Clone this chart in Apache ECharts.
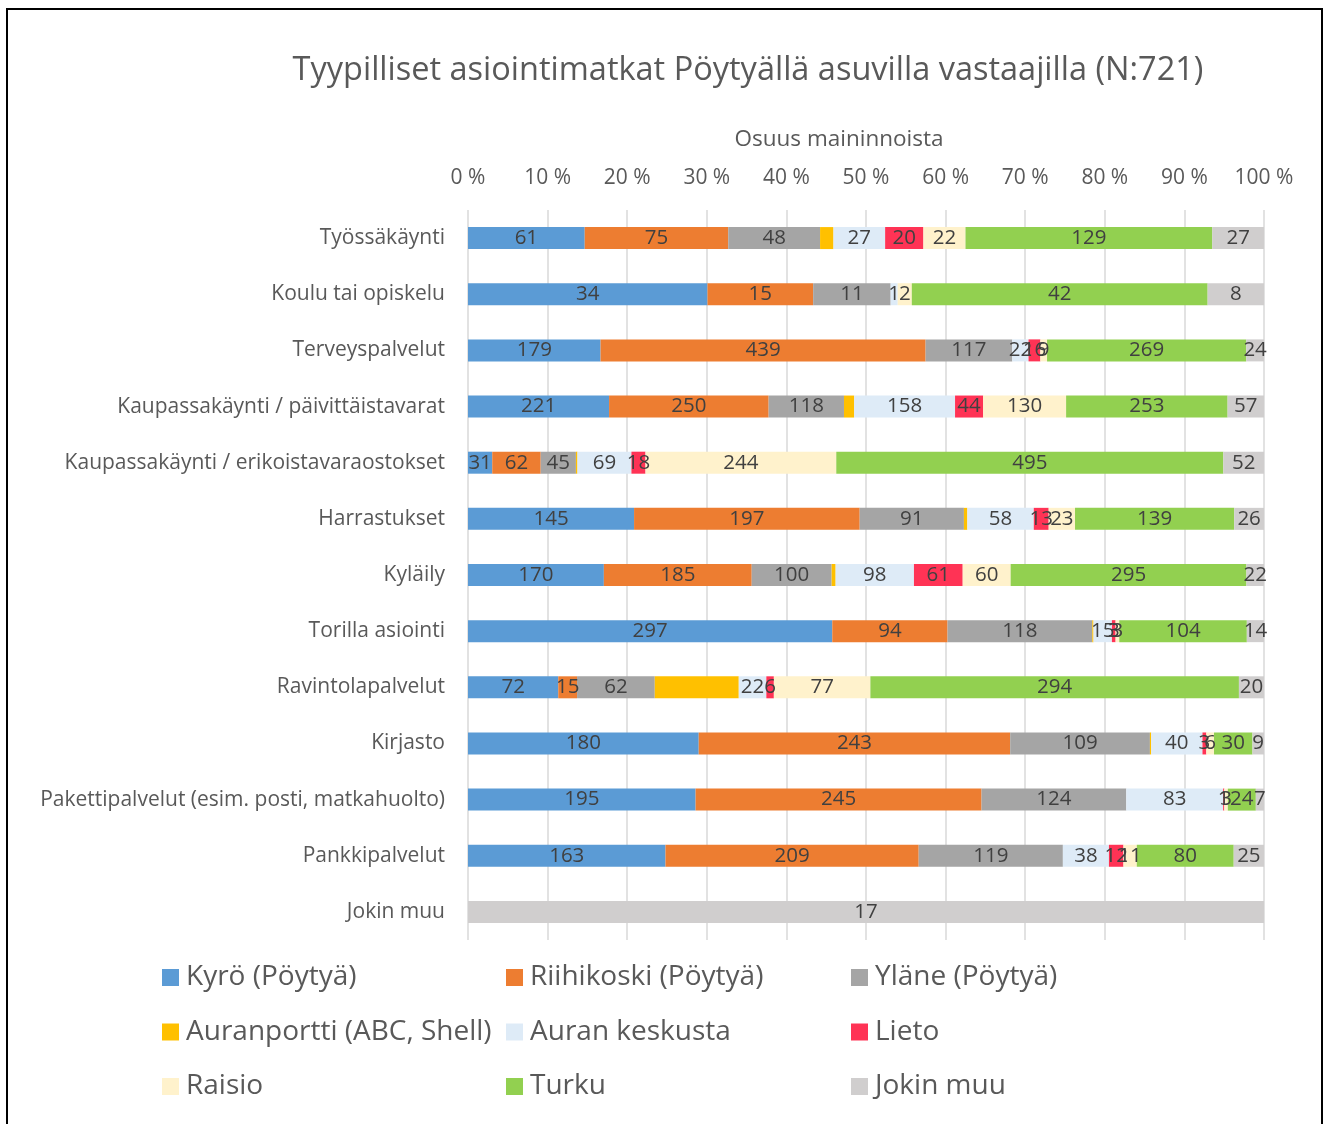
<!DOCTYPE html>
<html>
<head>
<meta charset="utf-8">
<script src="https://cdn.jsdelivr.net/npm/echarts@6/dist/echarts.min.js"></script>
<style>
  html, body { margin: 0; padding: 0; background: #fff; }
  #chart { width: 1324px; height: 1124px; }
</style>
</head>
<body>
<div id="chart"></div>
<script>
// kategoriat (ylhäältä alas)
const categories = [
  'Työssäkäynti',
  'Koulu tai opiskelu',
  'Terveyspalvelut',
  'Kaupassakäynti / päivittäistavarat',
  'Kaupassakäynti / erikoistavaraostokset',
  'Harrastukset',
  'Kyläily',
  'Torilla asiointi',
  'Ravintolapalvelut',
  'Kirjasto',
  'Pakettipalvelut (esim. posti, matkahuolto)',
  'Pankkipalvelut',
  'Jokin muu'
];

const seriesNames = [
  'Kyrö (Pöytyä)', 'Riihikoski (Pöytyä)', 'Yläne (Pöytyä)',
  'Auranportti (ABC, Shell)', 'Auran keskusta', 'Lieto',
  'Raisio', 'Turku', 'Jokin muu'
];

// mainintojen määrät
const kyro        = [61, 34, 179, 221, 31, 145, 170, 297, 72, 180, 195, 163, 0];
const riihikoski  = [75, 15, 439, 250, 62, 197, 185, 94, 15, 243, 245, 209, 0];
const ylane       = [48, 11, 117, 118, 45, 91, 100, 118, 62, 109, 124, 119, 0];
const auranportti = [7, 0, 0, 16, 2, 3, 5, 1, 67, 1, 0, 0, 0];
const auranKesk   = [27, 1, 22, 158, 69, 58, 98, 15, 22, 40, 83, 38, 0];
const lieto       = [20, 0, 16, 44, 18, 13, 61, 3, 6, 3, 1, 12, 0];
const raisio      = [22, 2, 9, 130, 244, 23, 60, 3, 77, 6, 3, 11, 0];
const turku       = [129, 42, 269, 253, 495, 139, 295, 104, 294, 30, 24, 80, 0];
const jokinMuu    = [27, 8, 24, 57, 52, 26, 22, 14, 20, 9, 7, 25, 17];

const xTicks = [0, 10, 20, 30, 40, 50, 60, 70, 80, 90, 100];

const raw = [kyro, riihikoski, ylane, auranportti, auranKesk, lieto, raisio, turku, jokinMuu];
const colors = ['#5B9BD5', '#ED7D31', '#A5A5A5', '#FFC000', '#DEEBF7', '#FF3355', '#FFF2CC', '#92D050', '#D0CECE'];

const totals = categories.map((c, i) => raw.reduce((s, arr) => s + arr[i], 0));

const font = '"Open Sans", sans-serif';

const chart = echarts.init(document.getElementById('chart'));

const series = raw.map((arr, si) => ({
  name: seriesNames[si],
  type: 'bar',
  stack: 'total',
  barWidth: 22,
  itemStyle: { color: colors[si] },
  label: {
    show: si !== 3,
    position: 'inside',
    color: '#404040',
    fontFamily: font,
    fontSize: 20.5,
    formatter: p => (raw[p.seriesIndex][p.dataIndex] ? String(raw[p.seriesIndex][p.dataIndex]) : '')
  },
  data: arr.map((v, i) => (v / totals[i]) * 100)
}));

const legendCols = [[0, 3, 6], [1, 4, 7], [2, 5, 8]];
const legendLeft = [157, 501, 846];

chart.setOption({
  animation: false,
  textStyle: { fontFamily: font },
  title: {
    text: 'Tyypilliset asiointimatkat Pöytyällä asuvilla vastaajilla (N:721)',
    left: 743,
    textAlign: 'center',
    top: 49,
    textStyle: { fontFamily: font, fontSize: 32.5, fontWeight: 'normal', color: '#595959' }
  },
  graphic: [{
    type: 'rect',
    shape: { x: 7, y: 9, width: 1315, height: 1130 },
    style: { fill: 'none', stroke: '#000', lineWidth: 2 },
    silent: true
  }],
  legend: legendCols.map((col, k) => ({
    orient: 'vertical',
    left: legendLeft[k],
    top: 957,
    itemWidth: 17,
    itemHeight: 17,
    itemGap: 23.5,
    icon: 'rect',
    selectedMode: false,
    data: col.map(i => seriesNames[i]),
    textStyle: { fontFamily: font, fontSize: 28, color: '#595959', lineHeight: 31, padding: [0, 0, 0, 2] }
  })),
  grid: { left: 468, right: 60, top: 210, height: 730, containLabel: false },
  xAxis: {
    type: 'value',
    position: 'top',
    min: xTicks[0],
    max: xTicks[xTicks.length - 1],
    interval: 10,
    name: 'Osuus maininnoista',
    nameLocation: 'middle',
    nameGap: 59,
    nameTextStyle: { fontFamily: font, fontSize: 22.5, color: '#595959', padding: [0, 54, 0, 0] },
    axisLine: { show: false },
    axisTick: { show: false },
    axisLabel: { formatter: '{value} %', margin: 21, fontFamily: font, fontSize: 21, color: '#595959' },
    splitLine: { lineStyle: { color: '#D9D9D9', width: 1.5 } }
  },
  yAxis: {
    type: 'category',
    inverse: true,
    data: categories,
    axisLine: { show: false },
    axisTick: { show: false },
    axisLabel: { margin: 23, fontFamily: font, fontSize: 21, color: '#595959' }
  },
  series: series
});
</script>
</body>
</html>
